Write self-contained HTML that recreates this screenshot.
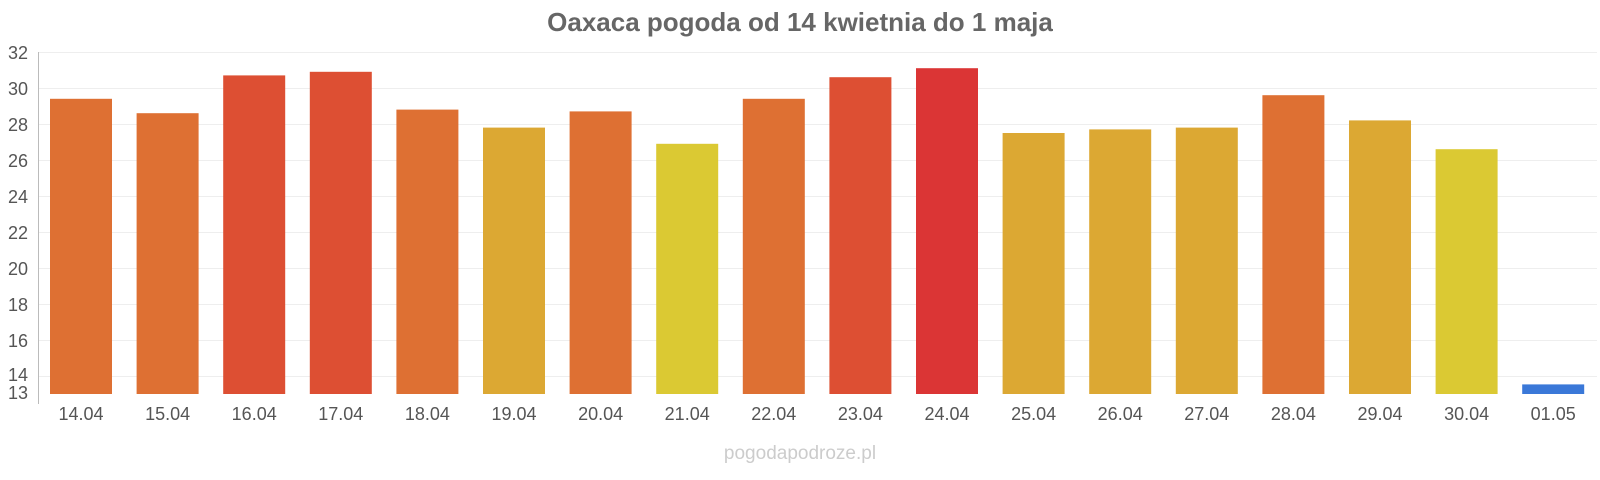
<!DOCTYPE html>
<html><head><meta charset="utf-8"><style>body{margin:0;background:#fff}svg{display:block}</style></head><body>
<svg width="1600" height="480" xmlns="http://www.w3.org/2000/svg" font-family="Liberation Sans, Arial, sans-serif">
<text x="800" y="31" text-anchor="middle" font-size="26" font-weight="bold" fill="#666">Oaxaca pogoda od 14 kwietnia do 1 maja</text>
<g stroke="#eee" stroke-width="1">
<line x1="39" x2="1597" y1="52.5" y2="52.5"/><line x1="39" x2="1597" y1="88.5" y2="88.5"/><line x1="39" x2="1597" y1="124.5" y2="124.5"/><line x1="39" x2="1597" y1="160.5" y2="160.5"/><line x1="39" x2="1597" y1="196.5" y2="196.5"/><line x1="39" x2="1597" y1="232.5" y2="232.5"/><line x1="39" x2="1597" y1="268.5" y2="268.5"/><line x1="39" x2="1597" y1="304.5" y2="304.5"/><line x1="39" x2="1597" y1="340.5" y2="340.5"/><line x1="39" x2="1597" y1="376.5" y2="376.5"/>
</g>
<line x1="38.5" x2="38.5" y1="52" y2="404" stroke="#bbb"/>
<g font-size="18" fill="#555" text-anchor="end">
<text x="28" y="59">32</text><text x="28" y="95">30</text><text x="28" y="131">28</text><text x="28" y="167">26</text><text x="28" y="203">24</text><text x="28" y="239">22</text><text x="28" y="275">20</text><text x="28" y="311">18</text><text x="28" y="347">16</text><text x="28" y="381">14</text><text x="28" y="399">13</text>
</g>
<g>
<rect x="50" y="98.8" width="62" height="295.2" fill="#de7033"/>
<rect x="136.6" y="113.2" width="62" height="280.8" fill="#de7033"/>
<rect x="223.2" y="75.4" width="62" height="318.6" fill="#dd4f33"/>
<rect x="309.8" y="71.8" width="62" height="322.2" fill="#dd4f33"/>
<rect x="396.4" y="109.6" width="62" height="284.4" fill="#de7033"/>
<rect x="483" y="127.6" width="62" height="266.4" fill="#dca833"/>
<rect x="569.6" y="111.4" width="62" height="282.6" fill="#de7033"/>
<rect x="656.2" y="143.8" width="62" height="250.2" fill="#dbc933"/>
<rect x="742.8" y="98.8" width="62" height="295.2" fill="#de7033"/>
<rect x="829.4" y="77.2" width="62" height="316.8" fill="#dd4f33"/>
<rect x="916" y="68.2" width="62" height="325.8" fill="#db3535"/>
<rect x="1002.6" y="133" width="62" height="261" fill="#dca833"/>
<rect x="1089.2" y="129.4" width="62" height="264.6" fill="#dca833"/>
<rect x="1175.8" y="127.6" width="62" height="266.4" fill="#dca833"/>
<rect x="1262.4" y="95.2" width="62" height="298.8" fill="#de7033"/>
<rect x="1349" y="120.4" width="62" height="273.6" fill="#dca833"/>
<rect x="1435.6" y="149.2" width="62" height="244.8" fill="#dbc933"/>
<rect x="1522.2" y="384.4" width="62" height="9.6" fill="#3a78d8"/>
</g>
<g font-size="18" fill="#555" text-anchor="middle">
<text x="81" y="420">14.04</text><text x="167.6" y="420">15.04</text><text x="254.2" y="420">16.04</text><text x="340.8" y="420">17.04</text><text x="427.4" y="420">18.04</text><text x="514" y="420">19.04</text><text x="600.6" y="420">20.04</text><text x="687.2" y="420">21.04</text><text x="773.8" y="420">22.04</text><text x="860.4" y="420">23.04</text><text x="947" y="420">24.04</text><text x="1033.6" y="420">25.04</text><text x="1120.2" y="420">26.04</text><text x="1206.8" y="420">27.04</text><text x="1293.4" y="420">28.04</text><text x="1380" y="420">29.04</text><text x="1466.6" y="420">30.04</text><text x="1553.2" y="420">01.05</text>
</g>
<text x="800" y="459" text-anchor="middle" font-size="19" fill="#ccc">pogodapodroze.pl</text>
</svg>
</body></html>
